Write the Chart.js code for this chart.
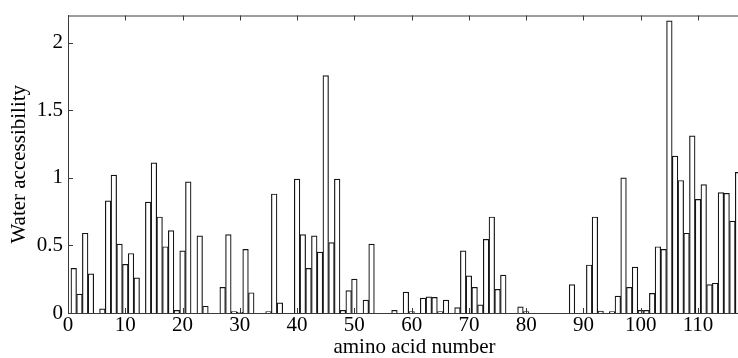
<!DOCTYPE html>
<html>
<head>
<meta charset="utf-8">
<script src="https://cdn.jsdelivr.net/npm/chart.js@4/dist/chart.umd.min.js"></script>
<style>
  html, body { margin: 0; padding: 0; background: #fff; overflow: hidden; }
  #recorte { width: 738px; height: 358px; overflow: hidden; }
  /* o eixo original continua para além da borda direita da imagem */
  #wrap { width: 761px; height: 358px; }
</style>
</head>
<body>
<div id="recorte"><div id="wrap"><canvas id="grafico"></canvas></div></div>
<script>
// valores (aminoácidos 1..117)
const aminoacidos = Array.from({ length: 117 }, (_, i) => i + 1);
const acessibilidade = [
  0.33, 0.14, 0.59, 0.29, 0, 0.03, 0.83, 1.02, 0.51, 0.36,
  0.44, 0.26, 0, 0.82, 1.11, 0.71, 0.49, 0.61, 0.02, 0.46,
  0.97, 0, 0.57, 0.05, 0, 0, 0.19, 0.58, 0.01, 0.005,
  0.47, 0.15, 0, 0, 0.01, 0.88, 0.075, 0, 0, 0.99,
  0.58, 0.33, 0.57, 0.45, 1.755, 0.52, 0.99, 0.02, 0.165, 0.25,
  0, 0.095, 0.51, 0, 0, 0, 0.02, 0, 0.155, 0.01,
  0, 0.11, 0.12, 0.115, 0.01, 0.095, 0, 0.04, 0.46, 0.275,
  0.19, 0.06, 0.545, 0.71, 0.175, 0.28, 0, 0, 0.045, 0.01,
  0, 0, 0, 0, 0, 0, 0, 0.21, 0, 0,
  0.355, 0.71, 0.015, 0, 0.01, 0.125, 1.0, 0.19, 0.34, 0.02,
  0.02, 0.145, 0.49, 0.47, 2.16, 1.16, 0.98, 0.59, 1.31, 0.84,
  0.95, 0.21, 0.22, 0.89, 0.885, 0.68, 1.04
];
const ticksX = [0, 10, 20, 30, 40, 50, 60, 70, 80, 90, 100, 110];
const ticksY = [0, 0.5, 1, 1.5, 2];

const fonte = { family: 'Liberation Serif', size: 21, lineHeight: 1 };
const corEixo = '#3a3a3a';

// moldura superior e marcas de escala para dentro, como no original
const moldura = {
  id: 'moldura',
  afterDraw(chart) {
    const { ctx, chartArea: a, scales: { x, y } } = chart;
    ctx.save();
    ctx.strokeStyle = corEixo;
    ctx.lineWidth = 1;
    ctx.beginPath();
    ctx.moveTo(a.left, a.top + 0.5);
    ctx.lineTo(a.right, a.top + 0.5);
    ticksX.forEach(v => {
      const px = Math.round(x.getPixelForValue(v)) + 0.5;
      ctx.moveTo(px, a.bottom);
      ctx.lineTo(px, a.bottom - 5);
      ctx.moveTo(px, a.top);
      ctx.lineTo(px, a.top + 5);
    });
    ticksY.forEach(v => {
      const py = Math.round(y.getPixelForValue(v)) + 0.5;
      ctx.moveTo(a.left, py);
      ctx.lineTo(a.left + 5, py);
    });
    ctx.stroke();
    ctx.restore();
  }
};

new Chart(document.getElementById('grafico').getContext('2d'), {
  type: 'bar',
  data: {
    datasets: [{
      data: aminoacidos.map((n, i) => ({ x: n, y: acessibilidade[i] })),
      backgroundColor: '#ffffff',
      borderColor: '#141414',
      borderWidth: 1.2,
      barThickness: 5.6
    }]
  },
  options: {
    responsive: true,
    maintainAspectRatio: false,
    animation: false,
    layout: { padding: { top: 12, right: 0, left: 0, bottom: 0 } },
    plugins: {
      legend: { display: false },
      tooltip: { enabled: false }
    },
    scales: {
      x: {
        type: 'linear',
        min: 0,
        max: 121,
        offset: false,
        grid: { display: false, drawTicks: false },
        border: { display: true, color: corEixo, width: 1 },
        afterBuildTicks: s => { s.ticks = ticksX.map(v => ({ value: v })); },
        ticks: { color: '#000', font: fonte, padding: 2, maxRotation: 0, autoSkip: false },
        title: { display: true, text: 'amino acid number', color: '#000', font: fonte, padding: { top: 0, bottom: 0 } },
        afterFit: s => { s.height = 45; }
      },
      y: {
        min: 0,
        max: 2.2,
        grid: { display: false, drawTicks: false },
        border: { display: true, color: corEixo, width: 1 },
        afterBuildTicks: s => { s.ticks = ticksY.map(v => ({ value: v })); },
        ticks: { color: '#000', font: fonte, padding: 5, callback: v => String(v) },
        title: { display: true, text: 'Water accessibility', color: '#000', font: fonte, padding: { top: 9, bottom: 0 } },
        afterFit: s => { s.width = 68; }
      }
    }
  },
  plugins: [moldura]
});
</script>
</body>
</html>
